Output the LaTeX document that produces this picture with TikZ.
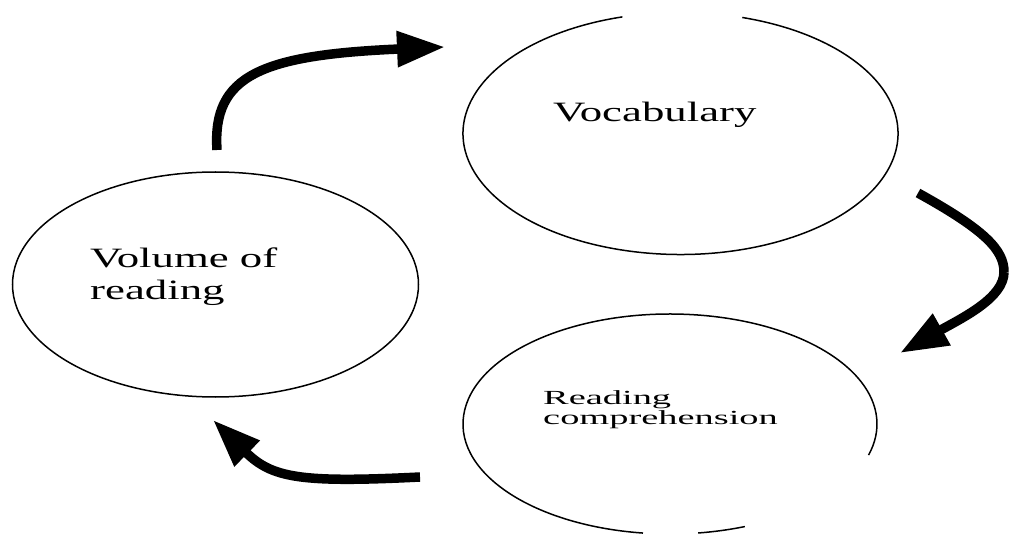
\documentclass[tikz,border=0pt]{standalone}
\usepackage{fontspec}
\setmainfont{Liberation Serif}
\newfontfamily\bigwide[FakeStretch=1.6]{Liberation Serif}
\newfontfamily\smallwide[FakeStretch=1.92]{Liberation Serif}
\usetikzlibrary{arrows.meta,calc}
\begin{document}
\begin{tikzpicture}[x=1pt,y=-1pt,
  ring/.style={line width=1.5pt, black},
  flow/.style={line width=9.5pt, black, -{Triangle[length=48pt,width=34pt]}},
  bigtext/.style={font=\bigwide\fontsize{28}{32}\selectfont, inner sep=0pt, align=left, anchor=base west},
  smalltext/.style={font=\smallwide\fontsize{20}{20}\selectfont, inner sep=0pt, align=left, anchor=base west}]
\useasboundingbox (0,0) rectangle (1009,537);
\fill[white] (0,0) rectangle (1009,537);

% ellipse centres
\coordinate (volc) at (215.5,284.5);
\coordinate (vocc) at (680.5,133.5);
\coordinate (rcc) at (670,424);

% Volume of reading (full ellipse)
\draw[ring] (volc) ellipse[x radius=203, y radius=112.5];
% Vocabulary (gap at top)
\draw[ring] ($(vocc)+({217.5*cos(-73.5)},{121*sin(-73.5)})$)
  arc[start angle=-73.5, end angle=254.5, x radius=217.5, y radius=121];
% Reading comprehension (gaps at lower right)
\draw[ring] ($(rcc)+({207*cos(97.5)},{110*sin(97.5)})$)
  arc[start angle=97.5, end angle=376.4, x radius=207, y radius=110];
\draw[ring] ($(rcc)+({207*cos(68.8)},{110*sin(68.8)})$)
  arc[start angle=68.8, end angle=82.2, x radius=207, y radius=110];

% texts (base anchor = baseline of last line)
\node[bigtext] (vol) at (90,299) {Volume of\\reading};
\node[bigtext] (voc) at (553,122) {Vocabulary};
\node[smalltext] (rc) at (543,424) {Reading\\comprehension};

% connectors
\coordinate (a1s) at (217,150);
\coordinate (a1e) at (445,47);
\coordinate (a2s) at (918,193);
\coordinate (a2m) at (1004,272);
\coordinate (a2e) at (900,353);
\coordinate (a3s) at (420,477);
\coordinate (a3e) at (213,420);

\draw[flow] (a1s) .. controls (212,75) and (262,55) .. (a1e);
\draw[line width=9.5pt] (a2s) .. controls (985,230) and (1004,250) .. (a2m);
\draw[flow] (a2m) .. controls (1004,298) and (962,318) .. (a2e);
\draw[flow] (a3s) .. controls (300,483) and (272,478) .. (a3e);
\end{tikzpicture}
\end{document}
